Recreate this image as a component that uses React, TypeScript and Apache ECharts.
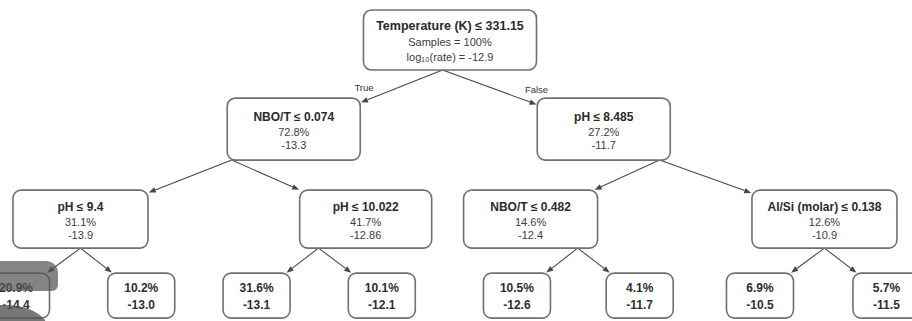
import React, { useEffect, useRef } from "react";
import * as echarts from "echarts";

// Regression tree for log10 dissolution rate.
// Parent of every node (-1 for the root) and its depth in the tree.
const parentOf = [-1, 0, 0, 1, 1, 2, 2, 3, 3, 4, 4, 5, 5, 6, 6];
const depthOf = [0, 1, 1, 2, 2, 2, 2, 3, 3, 3, 3, 3, 3, 3, 3];

// Split rule of each internal node (leaves have none).
const splitRules = [
  "Temperature (K) ≤ 331.15",
  "NBO/T ≤ 0.074",
  "pH ≤ 8.485",
  "pH ≤ 9.4",
  "pH ≤ 10.022",
  "NBO/T ≤ 0.482",
  "Al/Si (molar) ≤ 0.138",
  "", "", "", "", "", "", "", "",
];

// Share of samples (%) and mean log10(rate) per node.
const sampleShares = [100, 72.8, 27.2, 31.1, 41.7, 14.6, 12.6, 20.9, 10.2, 31.6, 10.1, 10.5, 4.1, 6.9, 5.7];
const meanLogRate = [-12.9, -13.3, -11.7, -13.9, -12.86, -12.4, -10.9, -14.4, -13.0, -13.1, -12.1, -12.6, -11.7, -10.5, -11.5];

const branchLabels = ["True", "False"];

// Diagram layout: horizontal slot of each box, slot where a node's branches fork,
// and the row of each depth level.
const nodeSlot = [3.5, 2.24, 4.74, 0.52, 2.82, 4.15, 6.52, 0.0, 1.01, 1.94, 2.95, 4.04, 5.03, 6.0, 7.02];
const forkSlot = [3.44, 1.74, 5.19, 0.52, 2.44, 4.53, 6.52];
const levelRow = [0, 0.99, 1.99, 2.84];

// Box sizes in pixels.
const boxWidths = [173, 133, 133, 135, 132, 134, 145, 67, 67, 67, 67, 67, 67, 67, 67];
const boxHeights = [60, 62, 58, 45];

const FONT = "'Liberation Sans', Arial, sans-serif";
const BORDER = "#707070";
const EDGE = "#474747";

const fmtRate = (v: number) => {
  const s = String(v);
  return s.includes(".") ? s : v.toFixed(1);
};

type Line = { text: string; dy: number; font: string; fill: string };

function nodeLines(i: number): Line[] {
  const rate = fmtRate(meanLogRate[i]);
  if (i === 0) {
    return [
      { text: splitRules[0], dy: -14, font: `bold 12.5px ${FONT}`, fill: "#2a2a2a" },
      { text: `Samples = ${sampleShares[0]}%`, dy: 2.5, font: `11px ${FONT}`, fill: "#3c3c3c" },
      { text: `log₁₀(rate) = ${rate}`, dy: 17, font: `11px ${FONT}`, fill: "#3c3c3c" },
    ];
  }
  if (splitRules[i]) {
    return [
      { text: splitRules[i], dy: -12, font: `bold 12px ${FONT}`, fill: "#2a2a2a" },
      { text: `${sampleShares[i]}%`, dy: 2.5, font: `11px ${FONT}`, fill: "#3c3c3c" },
      { text: rate, dy: 16, font: `11px ${FONT}`, fill: "#3c3c3c" },
    ];
  }
  return [
    { text: `${sampleShares[i]}%`, dy: -7.5, font: `bold 12px ${FONT}`, fill: "#2e2e2e" },
    { text: rate, dy: 9.5, font: `bold 12px ${FONT}`, fill: "#2e2e2e" },
  ];
}

const nodeData = parentOf.map((_, i) => [nodeSlot[i], levelRow[depthOf[i]], i]);

const edgeData = parentOf
  .map((p, i) => (p < 0 ? null : [nodeSlot[i], levelRow[depthOf[i]], forkSlot[p], levelRow[depthOf[p]], i]))
  .filter((d): d is number[] => d !== null);

function renderEdge(_params: any, api: any) {
  const i = api.value(4) as number;
  const p = parentOf[i];
  const [cx, cy] = api.coord([api.value(0), api.value(1)]);
  const [fx, pcy] = api.coord([api.value(2), api.value(3)]);
  const fy = pcy + boxHeights[depthOf[p]] / 2;
  const hw = boxWidths[i] / 2;
  const hh = boxHeights[depthOf[i]] / 2;
  const dx = cx - fx;
  const dy = cy - fy;
  // where the segment from the fork to the child's centre enters the child's box
  const ty = (cy - hh - fy) / dy;
  const tx = dx === 0 ? -Infinity : dx > 0 ? (cx - hw - fx) / dx : (cx + hw - fx) / dx;
  const t = Math.max(tx, ty);
  const len = Math.hypot(dx, dy);
  const ux = dx / len;
  const uy = dy / len;
  const ex = fx + dx * t - ux * 0.8;
  const ey = fy + dy * t - uy * 0.8;
  const head = 7;
  const half = 2.8;
  const bx = ex - ux * head;
  const by = ey - uy * head;
  const children: any[] = [
    {
      type: "line",
      shape: { x1: fx, y1: fy, x2: bx, y2: by },
      style: { stroke: EDGE, lineWidth: 1.1 },
    },
    {
      type: "polygon",
      shape: {
        points: [
          [ex, ey],
          [bx - uy * half, by + ux * half],
          [bx + uy * half, by - ux * half],
        ],
      },
      style: { fill: EDGE },
    },
  ];
  if (p === 0) {
    const k = parentOf.filter((q, j) => q === 0 && j < i).length;
    children.push({
      type: "text",
      x: ex + (dx < 0 ? 3 : 0),
      y: ey - 15,
      style: {
        text: branchLabels[k],
        fill: "#333",
        font: `9.5px ${FONT}`,
        align: "center",
        verticalAlign: "middle",
      },
    });
  }
  return { type: "group", children };
}

function renderNode(_params: any, api: any) {
  const i = api.value(2) as number;
  const [cx, cy] = api.coord([api.value(0), api.value(1)]);
  const w = boxWidths[i];
  const h = boxHeights[depthOf[i]];
  const children: any[] = [
    {
      type: "rect",
      shape: { x: cx - w / 2, y: cy - h / 2, width: w, height: h, r: 8 },
      style: { fill: "#ffffff", stroke: BORDER, lineWidth: 1.6 },
    },
  ];
  for (const line of nodeLines(i)) {
    children.push({
      type: "text",
      x: cx,
      y: cy + line.dy,
      style: {
        text: line.text,
        fill: line.fill,
        font: line.font,
        align: "center",
        verticalAlign: "middle",
      },
    });
  }
  return { type: "group", children };
}

const option = {
  animation: false,
  backgroundColor: "#ffffff",
  grid: { left: 0, right: 0, top: 0, bottom: 0, containLabel: false },
  xAxis: { type: "value", min: -0.129, max: 7.226, show: false },
  yAxis: { type: "value", inverse: true, min: -0.444, max: 3.122, show: false },
  series: [
    {
      type: "custom",
      z: 1,
      clip: false,
      silent: true,
      renderItem: renderEdge,
      data: edgeData,
    },
    {
      type: "custom",
      z: 2,
      clip: false,
      silent: true,
      renderItem: renderNode,
      data: nodeData,
    },
  ],
  graphic: [
    {
      type: "rect",
      z: 20,
      silent: true,
      shape: { x: -20, y: 261, width: 78, height: 30, r: [0, 12, 6, 0] },
      style: { fill: "#555555", opacity: 0.72 },
    },
    {
      type: "ellipse",
      z: 20,
      silent: true,
      shape: { cx: 4, cy: 329, rx: 44, ry: 24 },
      style: { fill: "#555555", opacity: 0.8 },
    },
  ],
};

export default function App() {
  const ref = useRef<HTMLDivElement>(null);
  useEffect(() => {
    const chart = echarts.init(ref.current!, undefined, { renderer: "svg" });
    chart.setOption(option as any);
    return () => chart.dispose();
  }, []);
  return (
    <div
      ref={ref}
      style={{ position: "fixed", left: 0, top: 0, width: 912, height: 321, background: "#fff" }}
    />
  );
}
